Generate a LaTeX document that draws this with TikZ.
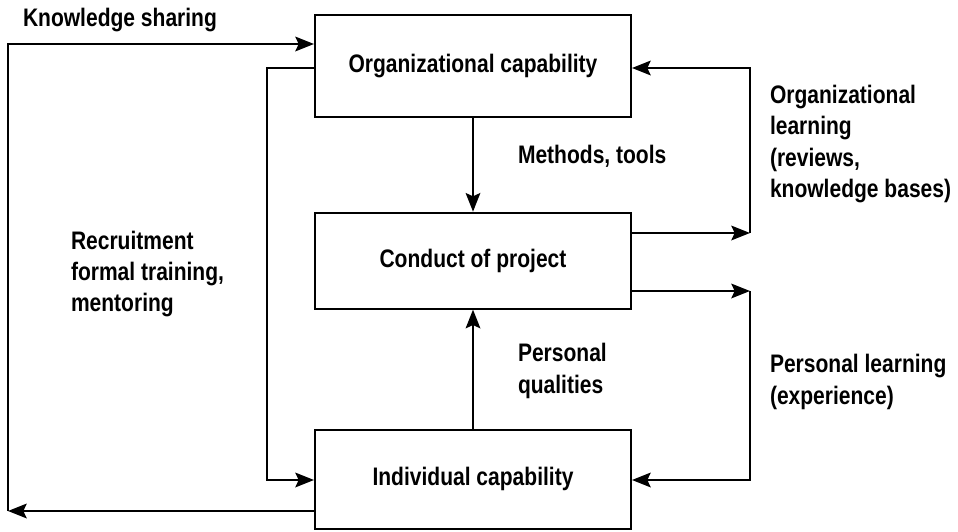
\documentclass[tikz,border=0pt]{standalone}
\usepackage{fontspec}
\setmainfont{Liberation Sans}[FakeStretch=0.83]
\usetikzlibrary{arrows.meta}

\begin{document}
\begin{tikzpicture}[x=0.75pt, y=-0.75pt, node distance=146pt, line width=1.5pt,
  every node/.style={font=\fontsize{19}{23.5}\selectfont\bfseries},
  box/.style={draw, line width=1.5pt, minimum width=237pt, minimum height=74pt, inner sep=0pt},
  lbl/.style={anchor=west, align=left, inner sep=0pt},
  >={Stealth[length=14pt, width=11pt, inset=2.5pt]}]
\useasboundingbox (0,0) rectangle (958,532);
\node[box, minimum height=76.5pt] (org) at (473,66) {Organizational capability};
\node[box, below of=org, minimum height=72pt] (proj) {Conduct of project};
\node[box, below of=proj, yshift=-18pt] (indiv) {Individual capability};
\coordinate (kstop) at (8,44);
\coordinate (ksbot) at (8,511);
\coordinate (rctop) at (267,68);
\coordinate (rcbot) at (267,480);
\coordinate (oltop) at (750,68);
\coordinate (olbot) at (750,233);
\coordinate (pltop) at (750,291);
\coordinate (plbot) at (750,480);
\node[lbl] (kslbl) at (22,20) {Knowledge sharing};
\node[lbl] (mtlbl) at (517,156) {Methods, tools};
\node[lbl] (ollbl) at (769,144) {Organizational\\learning\\(reviews,\\knowledge bases)};
\node[lbl] (rclbl) at (70,274) {Recruitment\\formal training,\\mentoring};
\node[lbl] (pqlbl) at (517,371) {Personal\\qualities};
\node[lbl] (pllbl) at (769,382) {Personal learning\\(experience)};
\draw[->] (org) -- (proj);
\draw[->] (indiv) -- (proj);
\draw[->] (indiv.west |- ksbot) -- (ksbot);
\draw[->] (ksbot) -- (kstop) -- (org.west |- kstop);
\draw[->] (org.west |- rctop) -- (rctop) -- (rcbot) -- (indiv.west |- rcbot);
\draw[->] (proj.east |- olbot) -- (olbot);
\draw[->] (olbot) -- (oltop) -- (org.east |- oltop);
\draw[->] (proj.east |- pltop) -- (pltop);
\draw[->] (pltop) -- (plbot) -- (indiv.east |- plbot);
\end{tikzpicture}
\end{document}
